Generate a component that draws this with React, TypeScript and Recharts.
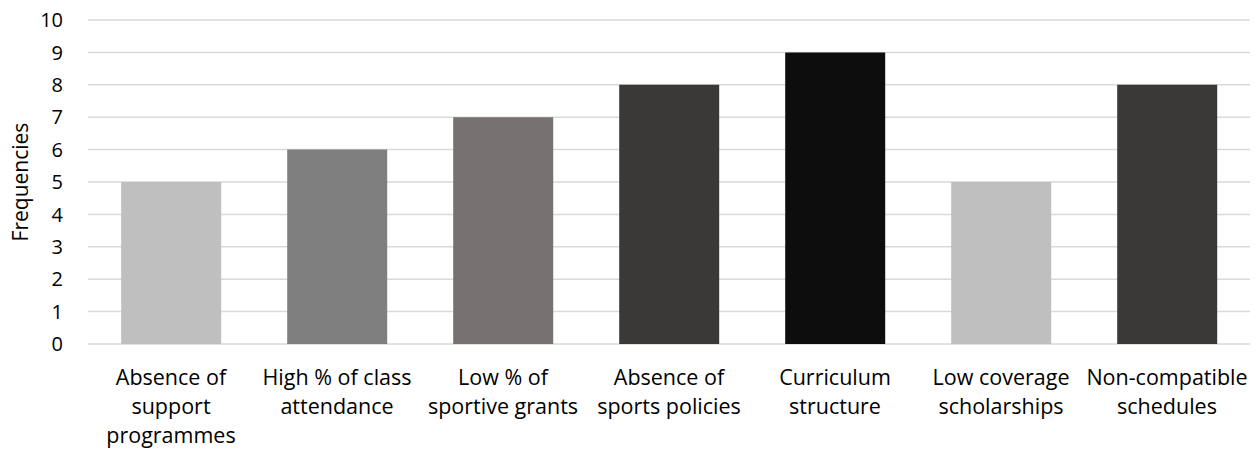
import React from "react";
import { BarChart, Bar, XAxis, YAxis, CartesianGrid, Cell, Label } from "recharts";

// categories (line breaks as in the original axis)
const categories = [
  "Absence of\nsupport\nprogrammes",
  "High % of class\nattendance",
  "Low % of\nsportive grants",
  "Absence of\nsports policies",
  "Curriculum\nstructure",
  "Low coverage\nscholarships",
  "Non-compatible\nschedules",
];
const frequencies = [5, 6, 7, 8, 9, 5, 8];
const barColors = ["#bfbfbf", "#7f7f7f", "#767171", "#3b3838", "#0d0d0d", "#bfbfbf", "#3b3838"];
const yTicks = [0, 1, 2, 3, 4, 5, 6, 7, 8, 9, 10];

const FONT = "'Open Sans', Lato, sans-serif";
const TEXT = "#000";

const data = categories.map((name, i) => ({ name, value: frequencies[i] }));

const CategoryTick = ({ x, y, payload }: any) => {
  const lines = String(payload.value).split("\n");
  return (
    <text x={x} y={y} textAnchor="middle" fill={TEXT} fontFamily={FONT} fontSize={21.5}>
      {lines.map((line, i) => (
        <tspan key={i} x={x} dy={i === 0 ? 33 : 29}>
          {line}
        </tspan>
      ))}
    </text>
  );
};

export default function App() {
  return (
    <div style={{ position: "absolute", left: 0, top: 0, background: "#fff" }}>
      <BarChart
        width={1256}
        height={449}
        data={data}
        margin={{ top: 20, right: 6, left: 0, bottom: 0 }}
        barCategoryGap="20%"
      >
        <CartesianGrid vertical={false} stroke="#d9d9d9" strokeWidth={1.5} />
        <XAxis
          dataKey="name"
          height={105}
          axisLine={false}
          tickLine={false}
          interval={0}
          tick={<CategoryTick />}
        />
        <YAxis
          width={88}
          domain={[0, 10]}
          ticks={yTicks}
          interval={0}
          axisLine={false}
          tickLine={false}
          tickSize={0}
          tickMargin={25}
          tick={{ fill: TEXT, fontFamily: FONT, fontSize: 20 }}
        >
          <Label
            value="Frequencies"
            angle={-90}
            position="insideLeft"
            offset={21}
            style={{ textAnchor: "middle", fill: TEXT, fontFamily: FONT, fontSize: 21 }}
          />
        </YAxis>
        <Bar dataKey="value" isAnimationActive={false}>
          {data.map((d, i) => (
            <Cell key={d.name} fill={barColors[i]} />
          ))}
        </Bar>
      </BarChart>
    </div>
  );
}
